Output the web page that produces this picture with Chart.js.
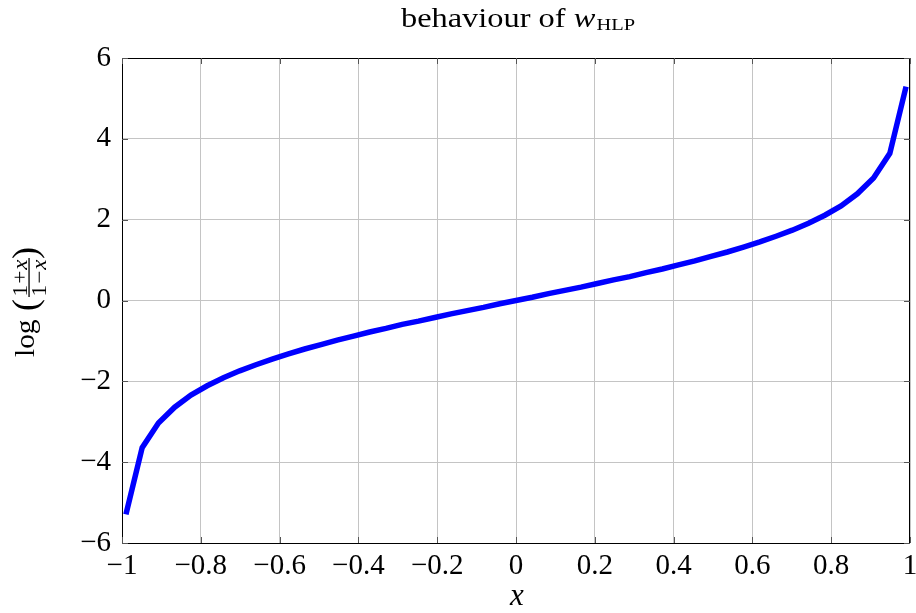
<!DOCTYPE html>
<html>
<head>
<meta charset="utf-8">
<script src="https://cdn.jsdelivr.net/npm/chart.js@4"></script>
<style>
  html, body { margin: 0; padding: 0; background: #fff; }
  #wrap { width: 916px; height: 613px; }
</style>
</head>
<body>
<div id="wrap"><canvas id="chartf1" width="916" height="613"></canvas></div>
<script>
// sample points of the curve
let x_values = [-0.99, -0.9488, -0.9075, -0.8663, -0.825, -0.7838, -0.7425, -0.7013, -0.66, -0.6188,
  -0.5775, -0.5363, -0.495, -0.4538, -0.4125, -0.3713, -0.33, -0.2888, -0.2475, -0.2063,
  -0.165, -0.1238, -0.0825, -0.0413, 0, 0.0413, 0.0825, 0.1238, 0.165, 0.2063,
  0.2475, 0.2888, 0.33, 0.3713, 0.4125, 0.4538, 0.495, 0.5363, 0.5775, 0.6188,
  0.66, 0.7013, 0.7425, 0.7838, 0.825, 0.8663, 0.9075, 0.9488, 0.99];
let y_values = [-5.29, -3.64, -3.03, -2.64, -2.34, -2.11, -1.91, -1.74, -1.59, -1.45,
  -1.32, -1.2, -1.09, -0.98, -0.88, -0.78, -0.69, -0.59, -0.51, -0.42,
  -0.33, -0.25, -0.17, -0.08, 0, 0.08, 0.17, 0.25, 0.33, 0.42,
  0.51, 0.59, 0.69, 0.78, 0.88, 0.98, 1.09, 1.2, 1.32, 1.45,
  1.59, 1.74, 1.91, 2.11, 2.34, 2.64, 3.03, 3.64, 5.29];

let x_ticks = [-1, -0.8, -0.6, -0.4, -0.2, 0, 0.2, 0.4, 0.6, 0.8, 1];
let y_ticks = [-6, -4, -2, 0, 2, 4, 6];

const serif = "'Liberation Serif', 'DejaVu Serif', serif";

const fmt = (v) => {
    let s = String(Math.round(v * 10) / 10);
    return s.replace('-', '\u2212');
};

let points = x_values.map((xv, i) => ({ x: xv, y: y_values[i] }));

// write a few pieces of text one after the other, stretched a bit sideways
const run = (ctx, parts, x, y, stretch) => {
    ctx.save();
    ctx.translate(x, y);
    ctx.scale(stretch, 1);
    let cur = 0;
    parts.forEach(p => {
        ctx.font = p.font;
        ctx.fillText(p.text, cur, p.dy || 0);
        cur += ctx.measureText(p.text).width + (p.gap || 0);
    });
    ctx.restore();
    return cur * stretch;
};

const measure = (ctx, parts, stretch) => {
    let cur = 0;
    parts.forEach(p => {
        ctx.font = p.font;
        cur += ctx.measureText(p.text).width + (p.gap || 0);
    });
    return cur * stretch;
};

// texts and frame drawn around the plot
const decorations = {
    id: 'decorations',
    afterDraw(chart) {
        const ctx = chart.ctx;
        const area = chart.chartArea;
        ctx.save();
        ctx.strokeStyle = '#000';
        ctx.lineWidth = 1;
        ctx.strokeRect(area.left + 0.5, area.top + 0.5, area.right - area.left - 1, area.bottom - area.top);

        // small inner tick marks
        ctx.strokeStyle = '#555';
        const xs = chart.scales.x, ys = chart.scales.y;
        x_ticks.forEach(t => {
            let px = Math.round(xs.getPixelForValue(t)) + 0.5;
            ctx.beginPath();
            ctx.moveTo(px, area.bottom); ctx.lineTo(px, area.bottom - 6);
            ctx.moveTo(px, area.top); ctx.lineTo(px, area.top + 6);
            ctx.stroke();
        });
        y_ticks.forEach(t => {
            let py = Math.round(ys.getPixelForValue(t)) + 0.5;
            ctx.beginPath();
            ctx.moveTo(area.left, py); ctx.lineTo(area.left + 6, py);
            ctx.moveTo(area.right, py); ctx.lineTo(area.right - 6, py);
            ctx.stroke();
        });

        const cx = (area.left + area.right) / 2;
        ctx.fillStyle = '#000';
        ctx.textBaseline = 'alphabetic';
        ctx.textAlign = 'left';

        // title: behaviour of w_HLP
        let title_parts = [
            { text: 'behaviour of ', font: '27px ' + serif },
            { text: 'w', font: 'italic 27px ' + serif, gap: 1 },
            { text: 'HLP', font: '17px ' + serif, dy: 3 }
        ];
        let tw = measure(ctx, title_parts, 1.2);
        run(ctx, title_parts, cx - tw / 2 + 2, 27, 1.2);

        // x label
        ctx.font = 'italic 31px ' + serif;
        ctx.textAlign = 'center';
        ctx.fillText('x', cx + 1, 605);
        ctx.textAlign = 'left';

        // y label: log ( (1+x) / (1-x) ), rotated
        ctx.translate(34, 302);
        ctx.rotate(-Math.PI / 2);
        run(ctx, [{ text: 'log', font: '28px ' + serif }], -55, 0, 1.05);
        ctx.font = '36px ' + serif;
        ctx.fillText('(', -9, 3);
        ctx.fillText(')', 43, 3);
        let num = [
            { text: '1', font: '21px ' + serif, gap: 1 },
            { text: '+', font: '21px ' + serif, gap: 1 },
            { text: 'x', font: 'italic 21px ' + serif }
        ];
        let den = [
            { text: '1', font: '21px ' + serif, gap: 1 },
            { text: '\u2212', font: '21px ' + serif, gap: 1 },
            { text: 'x', font: 'italic 21px ' + serif }
        ];
        let nw = measure(ctx, num, 1.1);
        let dw = measure(ctx, den, 1.1);
        run(ctx, num, 24 - nw / 2, -7, 1.1);
        run(ctx, den, 24 - dw / 2, 12, 1.1);
        ctx.fillRect(5, -5.6, 39, 1.3);
        ctx.restore();
    }
};

let chart = new Chart(document.getElementById('chartf1'), {
    type: 'line',
    data: {
        datasets: [{
            data: points,
            borderColor: '#0000ff',
            borderWidth: 5.5,
            pointRadius: 0,
            tension: 0,
            fill: false
        }]
    },
    options: {
        responsive: false,
        animation: false,
        layout: { padding: { top: 58, right: 6, left: 0, bottom: 0 } },
        plugins: { legend: { display: false }, tooltip: { enabled: false } },
        scales: {
            x: {
                type: 'linear',
                min: -1,
                max: 1,
                afterBuildTicks: (s) => { s.ticks = x_ticks.map(v => ({ value: v })); },
                afterFit: (s) => { s.height = 70; s.paddingLeft = 0; s.paddingRight = 0; },
                grid: { color: '#c4c4c4', drawTicks: false },
                border: { display: false },
                ticks: {
                    padding: 6,
                    color: '#000',
                    font: { family: serif, size: 29 },
                    maxRotation: 0,
                    autoSkip: false,
                    callback: (v) => fmt(v)
                }
            },
            y: {
                min: -6,
                max: 6,
                afterBuildTicks: (s) => { s.ticks = y_ticks.map(v => ({ value: v })); },
                afterFit: (s) => { s.width = 122; s.paddingTop = 0; s.paddingBottom = 0; },
                grid: { color: '#c4c4c4', drawTicks: false },
                border: { display: false },
                ticks: {
                    padding: 11,
                    color: '#000',
                    font: { family: serif, size: 29 },
                    callback: (v) => fmt(v)
                }
            }
        }
    },
    plugins: [decorations]
});
</script>
</body>
</html>
